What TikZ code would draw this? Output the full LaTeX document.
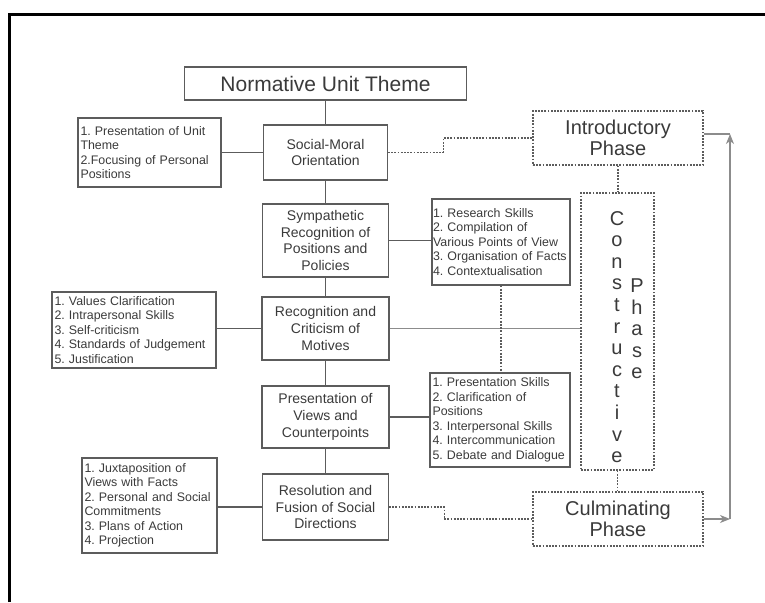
\documentclass[tikz,border=0pt]{standalone}
\usepackage{fontspec}
\setmainfont{Liberation Sans}
\usetikzlibrary{arrows.meta}
\definecolor{boxgray}{HTML}{5C5C5C}
\definecolor{linkgray}{HTML}{8C8C8C}
\definecolor{txtgray}{HTML}{3A3A3A}
\frenchspacing
\newcommand{\titlefont}{\fontsize{21}{24}\selectfont}
\newcommand{\stagefont}{\fontsize{14}{16.8}\selectfont}
\newcommand{\listfont}{\fontsize{12.4}{14.5}\selectfont\hyphenpenalty=10000\frenchspacing}
\newcommand{\phasefont}{\fontsize{20}{21.6}\selectfont}
\begin{document}
\begin{tikzpicture}[x=1pt,y=-1pt,
	stagebox/.style={draw=boxgray,line width=1.1pt,text=txtgray,align=center,inner sep=0pt,font=\stagefont},
	listbox/.style={draw=boxgray,line width=1.1pt,text=txtgray,align=left,inner ysep=0pt,inner xsep=2.5pt,font=\listfont},
	phasebox/.style={draw=boxgray,line width=1.1pt,dash pattern=on 1.8pt off 1.4pt,text=txtgray,align=center,inner sep=0pt,font=\phasefont},
	link/.style={draw=boxgray,line width=1.1pt},
	phaselink/.style={draw=boxgray,line width=1.1pt,dash pattern=on 1.8pt off 1.4pt},
	cycle/.style={draw=linkgray,line width=1.1pt,-{Stealth[length=10pt,width=8pt,inset=3pt]}}]
	\useasboundingbox (0,0) rectangle (765,602);
	\draw [line width=3pt] (9.5,602) -- (9.5,14.5) -- (765,14.5);
	\node [stagebox,font=\titlefont,minimum width=282pt,minimum height=33pt] (theme) at (325.5,83.5) {Normative Unit Theme};
	\node [stagebox,minimum width=124pt,minimum height=55pt] (social) at (325.5,152.5) {Social-Moral\\Orientation};
	\node [stagebox,minimum width=126pt,minimum height=73pt] (symp) at (325.5,240.5) {Sympathetic\\Recognition of\\Positions and\\Policies};
	\node [stagebox,minimum width=127pt,minimum height=63pt] (recog) at (325.5,328.5) {Recognition and\\Criticism of\\Motives};
	\node [stagebox,minimum width=127pt,minimum height=62pt] (pres) at (325.5,417) {Presentation of\\Views and\\Counterpoints};
	\node [stagebox,minimum width=126pt,minimum height=66pt] (resol) at (325.5,507) {Resolution and\\Fusion of Social\\Directions};
	\node [listbox,text width=138pt,minimum height=69pt] (lst1) at (149.5,152.5) {1. Presentation of Unit\\Theme\\2.Focusing of Personal\\Positions};
	\node [listbox,text width=159pt,minimum height=76pt] (lst2) at (134,330) {1. Values Clarification\\2. Intrapersonal Skills\\3. Self-criticism\\4. Standards of Judgement\\5. Justification};
	\node [listbox,text width=130pt,minimum height=95pt] (lst3) at (149.5,505.5) {1. Juxtaposition of\\Views with Facts\\2. Personal and Social\\Commitments\\3. Plans of Action\\4. Projection};
	\node [listbox,text width=136pt,inner xsep=1pt,minimum height=86pt] (res) at (501,242) {1. Research Skills\\2. Compilation of\\Various Points of View\\3. Organisation of Facts\\4. Contextualisation};
	\node [listbox,text width=135pt,minimum height=94pt] (skl) at (500,420) {1. Presentation Skills\\2. Clarification of\\Positions\\3. Interpersonal Skills\\4. Intercommunication\\5. Debate and Dialogue};
	\node [phasebox,minimum width=170pt,minimum height=54pt] (intro) at (618,138) {Introductory\\Phase};
	\node [phasebox,minimum width=73pt,minimum height=277pt] (cons) at (617.5,331.5) {};
	\node [text=txtgray,font=\phasefont,align=center,inner sep=0pt] (consword) at (617,337) {C\\o\\n\\s\\t\\r\\u\\c\\t\\i\\v\\e};
	\node [text=txtgray,font=\phasefont,align=center,inner sep=0pt] (phaseword) at (637,329) {P\\h\\a\\s\\e};
	\node [phasebox,minimum width=170pt,minimum height=54pt] (culm) at (618,519) {Culminating\\Phase};
	\coordinate (cT) at (730,134);
	\coordinate (cB) at (730,519);
	\draw [link] (theme) -- (social) -- (symp) -- (recog) -- (pres) -- (resol);
	\draw [link] (lst1) -- (social);
	\draw [link] (symp.east) -- (symp.east -| res.west);
	\draw [link] (recog.west) -- (recog.west -| lst2.east);
	\draw [link] (pres.east) -- (pres.east -| skl.west);
	\draw [link] (resol.west) -- (resol.west -| lst3.east);
	\draw [link,draw=linkgray] (recog.east) -- (recog.east -| cons.west);
	\draw [phaselink] (res.south) -- (res.south |- skl.north);
	\draw [phaselink] (social.east) -- ++(55,0) |- (intro.west);
	\draw [phaselink] (resol.east) -- ++(55,0) |- (culm.west);
	\draw [phaselink] (intro.south) -- (intro.south |- cons.north);
	\draw [phaselink] (cons.south) -- (cons.south |- culm.north);
	\draw [link,draw=linkgray] (cT -| intro.east) -- (cT);
	\draw [cycle] (cB) -- (cT);
	\draw [cycle] (culm.east) -- (cB);
\end{tikzpicture}
\end{document}
